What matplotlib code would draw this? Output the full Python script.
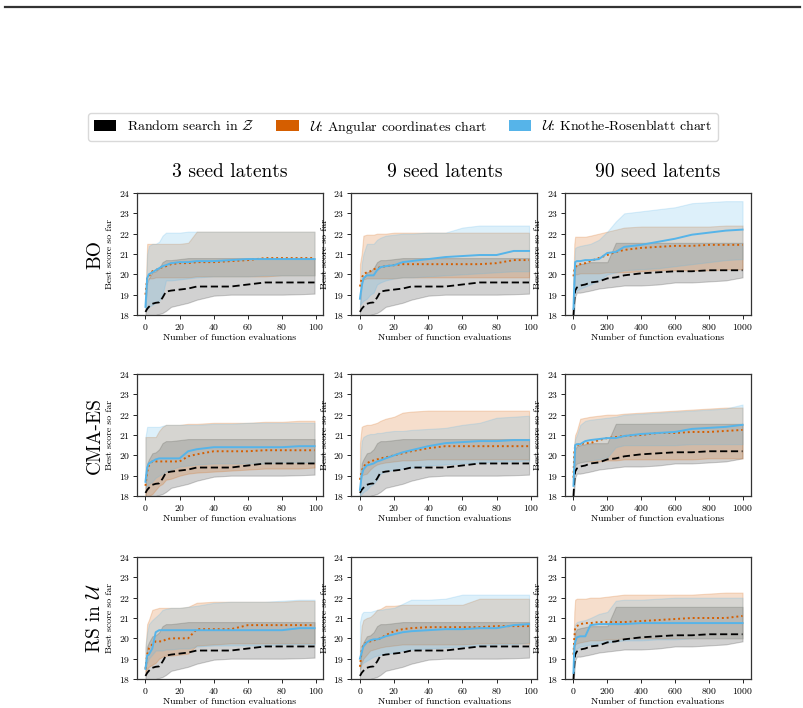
import matplotlib

matplotlib.use('Agg')

import matplotlib.pyplot as plt
from matplotlib.patches import Patch
from matplotlib.lines import Line2D

plt.rcParams['font.family'] = ['cmr10', 'DejaVu Serif']
plt.rcParams['mathtext.fontset'] = 'cm'
plt.rcParams['axes.formatter.use_mathtext'] = True

# x knots (evaluations) for the 100- and 1000-evaluation panels
X_SHORT = [0, 1, 2, 4, 6, 8, 10, 12, 15, 20, 25, 30, 40, 50, 60, 70, 80, 90, 99]
X_LONG = [0, 5, 10, 20, 40, 70, 100, 150, 200, 250, 300, 400, 500, 600, 700, 800, 900, 999]

ROW_LABELS = ['BO', 'CMA-ES', r'RS in $\mathcal{U}$']
COL_LABELS = ['3 seed latents', '9 seed latents', '90 seed latents']
LEGEND_LABELS = [r'Random search in $\mathcal{Z}$',
                 r'$\mathcal{U}$: Angular coordinates chart',
                 r'$\mathcal{U}$: Knothe-Rosenblatt chart']

# random search in Z (same for every optimiser)
RAND_S_MEAN = [18.15, 18.3, 18.4, 18.55, 18.6, 18.62, 18.85, 19.15, 19.2, 19.25, 19.3, 19.4, 19.4, 19.4, 19.5, 19.6, 19.6, 19.6, 19.6]
RAND_S_LO = [17.9, 17.9, 17.9, 17.95, 18.0, 18.05, 18.1, 18.2, 18.4, 18.5, 18.6, 18.75, 18.95, 19.0, 19.0, 19.0, 19.0, 19.02, 19.05]
RAND_S_HI = [18.4, 19.6, 19.8, 20.1, 20.15, 20.3, 20.6, 20.7, 20.7, 20.75, 20.8, 20.8, 20.8, 20.8, 20.8, 20.8, 20.8, 20.8, 20.8]
RAND_L_MEAN = [18.0, 18.7, 19.2, 19.35, 19.45, 19.5, 19.6, 19.65, 19.8, 19.85, 19.95, 20.05, 20.1, 20.15, 20.15, 20.2, 20.2, 20.2]
RAND_L_LO = [17.9, 18.3, 18.9, 19.1, 19.1, 19.15, 19.2, 19.3, 19.35, 19.4, 19.45, 19.45, 19.5, 19.6, 19.6, 19.65, 19.7, 19.85]
RAND_L_HI = [18.1, 19.5, 20.3, 20.45, 20.5, 20.55, 20.6, 20.6, 20.6, 21.55, 21.55, 21.55, 21.55, 21.55, 21.55, 21.55, 21.55, 21.55]

# BO
BO_3_ANG_MEAN = [19.0, 19.8, 19.9, 20.15, 20.2, 20.3, 20.35, 20.4, 20.5, 20.55, 20.55, 20.6, 20.6, 20.65, 20.7, 20.8, 20.8, 20.8, 20.8]
BO_3_ANG_LO = [19.0, 19.7, 19.8, 19.8, 19.85, 19.85, 19.85, 19.85, 19.85, 19.85, 19.85, 19.9, 19.9, 19.9, 19.9, 19.9, 19.95, 19.95, 19.95]
BO_3_ANG_HI = [19.0, 21.5, 21.5, 21.5, 21.5, 21.5, 21.5, 21.5, 21.5, 21.5, 21.55, 22.1, 22.1, 22.1, 22.1, 22.1, 22.1, 22.1, 22.1]
BO_3_KR_MEAN = [18.4, 19.8, 20.0, 20.1, 20.2, 20.3, 20.4, 20.45, 20.55, 20.6, 20.6, 20.65, 20.65, 20.7, 20.75, 20.75, 20.75, 20.75, 20.75]
BO_3_KR_LO = [18.3, 18.3, 18.4, 18.5, 18.6, 18.7, 19.0, 19.7, 19.7, 19.75, 19.8, 19.85, 19.9, 19.9, 19.9, 19.95, 19.95, 19.95, 19.95]
BO_3_KR_HI = [18.5, 21.0, 21.4, 21.5, 21.5, 21.6, 21.9, 22.05, 22.05, 22.05, 22.1, 22.1, 22.1, 22.1, 22.1, 22.1, 22.1, 22.1, 22.1]

BO_9_ANG_MEAN = [19.4, 19.8, 20.0, 20.1, 20.15, 20.25, 20.3, 20.35, 20.4, 20.45, 20.5, 20.5, 20.5, 20.5, 20.5, 20.5, 20.55, 20.7, 20.7]
BO_9_ANG_LO = [19.4, 19.6, 19.75, 19.8, 19.8, 19.8, 19.8, 19.8, 19.8, 19.8, 19.85, 19.85, 19.85, 19.85, 19.85, 19.85, 19.85, 19.85, 19.85]
BO_9_ANG_HI = [20.5, 21.0, 21.9, 21.95, 21.95, 21.95, 22.0, 22.0, 22.0, 22.05, 22.05, 22.05, 22.05, 22.05, 22.05, 22.05, 22.05, 22.05, 22.05]
BO_9_KR_MEAN = [18.8, 19.4, 19.8, 19.95, 19.95, 19.95, 20.2, 20.35, 20.4, 20.45, 20.6, 20.65, 20.75, 20.85, 20.9, 20.95, 20.95, 21.15, 21.15]
BO_9_KR_LO = [18.5, 18.6, 18.7, 18.8, 19.0, 19.1, 19.5, 19.6, 19.7, 19.8, 19.85, 19.85, 19.9, 19.95, 20.0, 20.05, 20.1, 20.15, 20.15]
BO_9_KR_HI = [19.0, 20.5, 21.0, 21.5, 21.5, 21.5, 21.7, 21.8, 21.9, 21.95, 22.0, 22.0, 22.05, 22.05, 22.3, 22.4, 22.4, 22.4, 22.4]

BO_90_ANG_MEAN = [19.9, 20.2, 20.35, 20.45, 20.5, 20.55, 20.65, 20.8, 20.95, 21.1, 21.2, 21.3, 21.35, 21.4, 21.4, 21.45, 21.45, 21.45]
BO_90_ANG_LO = [19.5, 19.9, 20.0, 20.0, 20.05, 20.05, 20.05, 20.05, 20.1, 20.1, 20.1, 20.15, 20.2, 20.2, 20.2, 20.2, 20.25, 20.25]
BO_90_ANG_HI = [19.8, 21.5, 21.85, 21.85, 21.85, 21.85, 21.9, 22.0, 22.1, 22.2, 22.3, 22.35, 22.35, 22.35, 22.35, 22.35, 22.4, 22.4]
BO_90_KR_MEAN = [18.3, 19.5, 20.6, 20.65, 20.65, 20.7, 20.7, 20.75, 21.05, 21.1, 21.35, 21.45, 21.6, 21.75, 21.95, 22.05, 22.15, 22.2]
BO_90_KR_LO = [18.1, 19.0, 19.1, 19.2, 19.3, 19.4, 19.5, 19.7, 20.0, 20.1, 20.2, 20.25, 20.3, 20.4, 20.5, 20.6, 20.7, 20.75]
BO_90_KR_HI = [19.5, 20.5, 21.3, 21.35, 21.4, 21.45, 21.5, 21.7, 22.1, 22.6, 23.0, 23.1, 23.2, 23.3, 23.5, 23.55, 23.6, 23.6]

# CMA-ES
CMA_3_ANG_MEAN = [18.5, 19.2, 19.5, 19.7, 19.7, 19.7, 19.7, 19.7, 19.7, 19.7, 19.95, 20.05, 20.2, 20.2, 20.2, 20.25, 20.25, 20.25, 20.25]
CMA_3_ANG_LO = [18.0, 18.0, 18.0, 18.1, 18.3, 18.5, 18.6, 18.8, 18.85, 19.0, 19.1, 19.15, 19.2, 19.25, 19.3, 19.35, 19.35, 19.35, 19.4]
CMA_3_ANG_HI = [20.9, 20.9, 20.9, 20.9, 20.9, 21.2, 21.4, 21.5, 21.5, 21.5, 21.55, 21.55, 21.6, 21.6, 21.6, 21.65, 21.65, 21.7, 21.7]
CMA_3_KR_MEAN = [18.7, 19.4, 19.6, 19.7, 19.8, 19.85, 19.85, 19.85, 19.85, 19.85, 20.2, 20.3, 20.4, 20.4, 20.4, 20.4, 20.4, 20.45, 20.45]
CMA_3_KR_LO = [18.4, 18.5, 18.6, 18.7, 18.9, 19.0, 19.1, 19.2, 19.3, 19.45, 19.5, 19.55, 19.6, 19.6, 19.6, 19.6, 19.65, 19.65, 19.65]
CMA_3_KR_HI = [20.9, 21.4, 21.4, 21.4, 21.4, 21.4, 21.45, 21.5, 21.5, 21.5, 21.5, 21.5, 21.55, 21.55, 21.6, 21.6, 21.6, 21.6, 21.6]

CMA_9_ANG_MEAN = [18.8, 19.2, 19.45, 19.6, 19.7, 19.75, 19.8, 19.85, 19.9, 20.0, 20.1, 20.2, 20.35, 20.45, 20.45, 20.45, 20.45, 20.45, 20.45]
CMA_9_ANG_LO = [18.6, 19.0, 19.05, 19.1, 19.3, 19.45, 19.55, 19.6, 19.65, 19.7, 19.75, 19.75, 19.8, 19.8, 19.8, 19.8, 19.8, 19.8, 19.8]
CMA_9_ANG_HI = [20.6, 21.4, 21.45, 21.5, 21.5, 21.55, 21.6, 21.7, 21.8, 21.9, 22.1, 22.15, 22.2, 22.2, 22.2, 22.2, 22.2, 22.2, 22.2]
CMA_9_KR_MEAN = [18.3, 19.0, 19.3, 19.5, 19.55, 19.6, 19.7, 19.75, 19.85, 20.0, 20.15, 20.25, 20.45, 20.6, 20.65, 20.7, 20.7, 20.75, 20.75]
CMA_9_KR_LO = [18.0, 18.1, 18.2, 18.3, 18.5, 18.6, 18.8, 19.1, 19.2, 19.3, 19.35, 19.4, 19.5, 19.55, 19.6, 19.65, 19.7, 19.7, 19.75]
CMA_9_KR_HI = [19.5, 20.7, 20.9, 21.0, 21.05, 21.05, 21.1, 21.1, 21.15, 21.2, 21.2, 21.25, 21.3, 21.35, 21.5, 21.6, 21.85, 21.9, 21.95]

CMA_90_ANG_MEAN = [18.9, 20.2, 20.45, 20.5, 20.55, 20.6, 20.6, 20.75, 20.85, 20.9, 20.95, 21.0, 21.1, 21.1, 21.15, 21.15, 21.2, 21.25]
CMA_90_ANG_LO = [18.8, 19.3, 19.5, 19.6, 19.65, 19.7, 19.7, 19.7, 19.75, 19.75, 19.8, 19.8, 19.8, 19.8, 19.8, 19.85, 19.85, 19.85]
CMA_90_ANG_HI = [19.5, 20.6, 21.0, 21.2, 21.8, 21.85, 21.9, 21.95, 22.0, 22.0, 22.05, 22.1, 22.15, 22.2, 22.25, 22.3, 22.35, 22.35]
CMA_90_KR_MEAN = [18.5, 19.5, 20.5, 20.55, 20.55, 20.7, 20.75, 20.8, 20.85, 20.85, 20.95, 21.05, 21.1, 21.15, 21.3, 21.35, 21.4, 21.5]
CMA_90_KR_LO = [18.5, 19.3, 19.5, 19.6, 19.65, 19.7, 19.75, 19.8, 19.9, 20.4, 20.5, 20.5, 20.5, 20.5, 20.55, 20.55, 20.55, 20.55]
CMA_90_KR_HI = [19.3, 20.5, 20.8, 21.0, 21.5, 21.7, 21.75, 21.8, 21.85, 21.9, 22.0, 22.05, 22.1, 22.15, 22.2, 22.25, 22.3, 22.5]

# RS in U
RS_3_ANG_MEAN = [18.5, 19.2, 19.5, 19.7, 19.85, 19.85, 19.85, 19.95, 20.0, 20.0, 20.0, 20.45, 20.45, 20.45, 20.65, 20.65, 20.65, 20.65, 20.65]
RS_3_ANG_LO = [18.3, 18.5, 18.6, 18.7, 18.8, 19.0, 19.1, 19.15, 19.15, 19.2, 19.25, 19.65, 19.7, 19.75, 19.75, 19.75, 19.75, 19.75, 19.75]
RS_3_ANG_HI = [19.5, 20.7, 20.9, 21.4, 21.45, 21.5, 21.5, 21.5, 21.5, 21.5, 21.55, 21.75, 21.8, 21.8, 21.8, 21.8, 21.8, 21.85, 21.85]
RS_3_KR_MEAN = [18.5, 19.15, 19.2, 19.5, 20.3, 20.4, 20.4, 20.4, 20.4, 20.4, 20.4, 20.4, 20.4, 20.4, 20.4, 20.4, 20.4, 20.5, 20.5]
RS_3_KR_LO = [18.5, 18.8, 19.0, 19.2, 19.4, 19.4, 19.4, 19.45, 19.45, 19.5, 19.5, 19.6, 19.65, 19.65, 19.65, 19.65, 19.7, 19.7, 19.7]
RS_3_KR_HI = [19.6, 20.3, 20.7, 20.9, 21.05, 21.2, 21.4, 21.45, 21.5, 21.5, 21.55, 21.6, 21.75, 21.8, 21.8, 21.8, 21.85, 21.9, 21.9]

RS_9_ANG_MEAN = [18.6, 19.4, 19.7, 19.8, 19.85, 19.9, 19.95, 20.0, 20.15, 20.35, 20.45, 20.5, 20.55, 20.55, 20.55, 20.55, 20.6, 20.6, 20.6]
RS_9_ANG_LO = [18.5, 18.8, 19.0, 19.2, 19.4, 19.45, 19.5, 19.55, 19.6, 19.65, 19.7, 19.7, 19.7, 19.7, 19.7, 19.75, 19.75, 19.75, 19.75]
RS_9_ANG_HI = [19.5, 20.6, 20.9, 21.0, 21.05, 21.2, 21.4, 21.45, 21.6, 21.6, 21.65, 21.65, 21.65, 21.65, 21.65, 21.95, 21.95, 21.95, 21.95]
RS_9_KR_MEAN = [19.0, 19.3, 19.6, 19.8, 19.9, 19.95, 19.95, 20.0, 20.1, 20.2, 20.3, 20.35, 20.4, 20.45, 20.45, 20.5, 20.5, 20.65, 20.7]
RS_9_KR_LO = [18.5, 18.7, 18.8, 18.9, 19.0, 19.1, 19.15, 19.2, 19.25, 19.3, 19.4, 19.45, 19.5, 19.55, 19.6, 19.65, 19.7, 19.7, 19.8]
RS_9_KR_HI = [20.8, 21.2, 21.3, 21.3, 21.3, 21.35, 21.4, 21.4, 21.45, 21.5, 21.7, 21.9, 21.9, 21.95, 22.15, 22.15, 22.15, 22.15, 22.15]

RS_90_ANG_MEAN = [19.2, 20.0, 20.5, 20.6, 20.7, 20.75, 20.75, 20.8, 20.8, 20.8, 20.8, 20.85, 20.9, 20.95, 21.0, 21.0, 21.0, 21.1]
RS_90_ANG_LO = [19.0, 19.6, 19.7, 19.75, 19.8, 19.85, 19.9, 19.9, 19.95, 19.95, 20.0, 20.0, 20.0, 20.0, 20.0, 20.0, 20.0, 20.0]
RS_90_ANG_HI = [19.5, 21.3, 21.9, 21.95, 21.95, 21.95, 22.0, 22.0, 22.05, 22.1, 22.15, 22.15, 22.15, 22.15, 22.15, 22.2, 22.25, 22.25]
RS_90_KR_MEAN = [18.3, 19.6, 19.8, 20.05, 20.1, 20.1, 20.65, 20.7, 20.7, 20.7, 20.7, 20.75, 20.75, 20.75, 20.75, 20.75, 20.75, 20.75]
RS_90_KR_LO = [18.2, 19.2, 19.4, 19.5, 19.6, 19.65, 19.7, 19.75, 19.8, 19.85, 19.9, 19.9, 19.95, 19.95, 20.0, 20.0, 20.0, 20.0]
RS_90_KR_HI = [19.3, 20.4, 20.7, 20.8, 20.85, 20.9, 21.0, 21.2, 21.3, 21.85, 21.9, 21.9, 21.95, 22.0, 22.0, 22.0, 22.0, 22.0]

C_RAND = 'black'
C_ANG = '#D55E00'
C_KR = '#56B4E9'

panels = [
    [(BO_3_ANG_MEAN, BO_3_ANG_LO, BO_3_ANG_HI, BO_3_KR_MEAN, BO_3_KR_LO, BO_3_KR_HI),
     (BO_9_ANG_MEAN, BO_9_ANG_LO, BO_9_ANG_HI, BO_9_KR_MEAN, BO_9_KR_LO, BO_9_KR_HI),
     (BO_90_ANG_MEAN, BO_90_ANG_LO, BO_90_ANG_HI, BO_90_KR_MEAN, BO_90_KR_LO, BO_90_KR_HI)],
    [(CMA_3_ANG_MEAN, CMA_3_ANG_LO, CMA_3_ANG_HI, CMA_3_KR_MEAN, CMA_3_KR_LO, CMA_3_KR_HI),
     (CMA_9_ANG_MEAN, CMA_9_ANG_LO, CMA_9_ANG_HI, CMA_9_KR_MEAN, CMA_9_KR_LO, CMA_9_KR_HI),
     (CMA_90_ANG_MEAN, CMA_90_ANG_LO, CMA_90_ANG_HI, CMA_90_KR_MEAN, CMA_90_KR_LO, CMA_90_KR_HI)],
    [(RS_3_ANG_MEAN, RS_3_ANG_LO, RS_3_ANG_HI, RS_3_KR_MEAN, RS_3_KR_LO, RS_3_KR_HI),
     (RS_9_ANG_MEAN, RS_9_ANG_LO, RS_9_ANG_HI, RS_9_KR_MEAN, RS_9_KR_LO, RS_9_KR_HI),
     (RS_90_ANG_MEAN, RS_90_ANG_LO, RS_90_ANG_HI, RS_90_KR_MEAN, RS_90_KR_LO, RS_90_KR_HI)],
]

W, H = 804, 708
fig = plt.figure(figsize=(W / 100, H / 100), dpi=100)

col_left = [137, 351.5, 565]
row_top = [193, 374, 557]
ax_w, ax_h = 186, 122


def band(ax, x, lo, hi, color, alpha):
    ax.fill_between(x, lo, hi, facecolor=color, alpha=alpha, edgecolor=color, linewidth=0.8)


for r in range(3):
    for c in range(3):
        ax = fig.add_axes([col_left[c] / W, 1 - (row_top[r] + ax_h) / H, ax_w / W, ax_h / H])
        if c < 2:
            x = X_SHORT
            rm, rl, rh = RAND_S_MEAN, RAND_S_LO, RAND_S_HI
        else:
            x = X_LONG
            rm, rl, rh = RAND_L_MEAN, RAND_L_LO, RAND_L_HI
        am, al, ah, km, kl, kh = panels[r][c]

        band(ax, x, rl, rh, C_RAND, 0.18)
        band(ax, x, al, ah, C_ANG, 0.2)
        band(ax, x, kl, kh, C_KR, 0.2)
        ax.plot(x, rm, color=C_RAND, lw=1.3, linestyle=(0, (4, 2)), zorder=3)
        ax.plot(x, am, color=C_ANG, lw=1.4, linestyle=(0, (1, 1.5)), zorder=4)
        ax.plot(x, km, color=C_KR, lw=1.4, zorder=5)

        ax.set_ylim(18, 24)
        ax.set_yticks(range(18, 25))
        if c < 2:
            ax.set_xticks([0, 20, 40, 60, 80, 100])
        else:
            ax.set_xticks([0, 200, 400, 600, 800, 1000])
        ax.tick_params(labelsize=7, length=3, width=0.6, pad=2)
        ax.set_xlabel('Number of function evaluations', fontsize=7, labelpad=1)
        ax.set_ylabel('Best score so far', fontsize=7, labelpad=3)
        for s in ax.spines.values():
            s.set_linewidth(0.9)
            s.set_color('0.2')

for c in range(3):
    fig.text((col_left[c] + ax_w / 2) / W, 1 - 172 / H, COL_LABELS[c],
             ha='center', va='center', fontsize=14)
for r in range(3):
    fig.text(95 / W, 1 - (row_top[r] + ax_h / 2) / H, ROW_LABELS[r],
             ha='center', va='center', fontsize=14, rotation=90)

handles = [Patch(facecolor=C_RAND), Patch(facecolor=C_ANG), Patch(facecolor=C_KR)]
fig.legend(handles, LEGEND_LABELS, loc='center', bbox_to_anchor=(403 / W, 1 - 127 / H),
           ncol=3, fontsize=10, handlelength=1.6, handleheight=0.8,
           columnspacing=1.6, framealpha=1, edgecolor='0.85', borderpad=0.4)

fig.add_artist(Line2D([5 / W, 800 / W], [1 - 7 / H, 1 - 7 / H], color='0.2', lw=1.6,
                      transform=fig.transFigure))

fig.savefig('out.png', dpi=100)
